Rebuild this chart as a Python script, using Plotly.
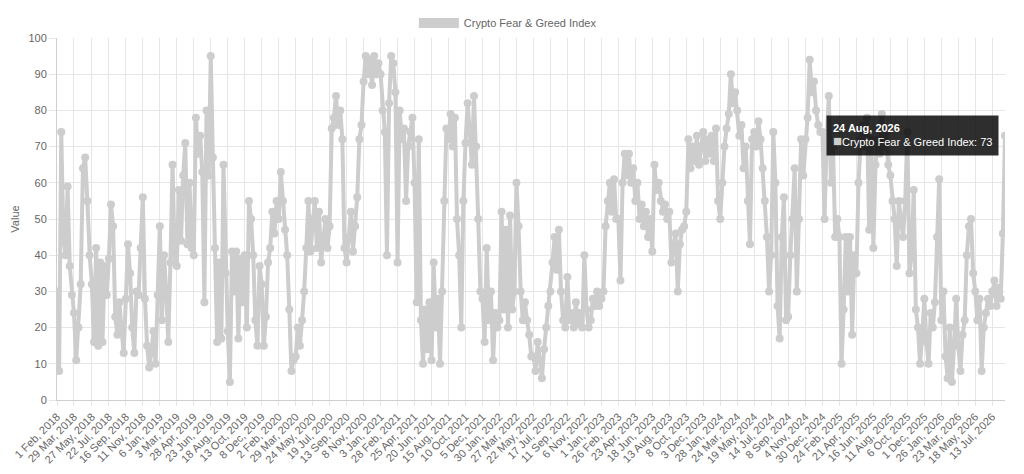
import plotly.graph_objects as go
import pandas as pd

# ---- tick labels (category labels shown on the x axis) ----
tick_labels = [
    "1 Feb, 2018", "29 Mar, 2018", "27 May, 2018", "22 Jul, 2018", "16 Sep, 2018", "11 Nov, 2018",
    "6 Jan, 2019", "3 Mar, 2019", "28 Apr, 2019", "23 Jun, 2019", "18 Aug, 2019", "13 Oct, 2019", "8 Dec, 2019",
    "2 Feb, 2020", "29 Mar, 2020", "24 May, 2020", "19 Jul, 2020", "13 Sep, 2020", "8 Nov, 2020",
    "3 Jan, 2021", "28 Feb, 2021", "25 Apr, 2021", "20 Jun, 2021", "15 Aug, 2021", "10 Oct, 2021", "5 Dec, 2021",
    "30 Jan, 2022", "27 Mar, 2022", "22 May, 2022", "17 Jul, 2022", "11 Sep, 2022", "6 Nov, 2022",
    "1 Jan, 2023", "26 Feb, 2023", "23 Apr, 2023", "18 Jun, 2023", "13 Aug, 2023", "8 Oct, 2023", "3 Dec, 2023",
    "28 Jan, 2024", "24 Mar, 2024", "19 May, 2024", "14 Jul, 2024", "8 Sep, 2024", "4 Nov, 2024", "30 Dec, 2024",
    "24 Feb, 2025", "21 Apr, 2025", "16 Jun, 2025", "11 Aug, 2025", "6 Oct, 2025", "1 Dec, 2025",
    "26 Jan, 2026", "23 Mar, 2026", "18 May, 2026", "13 Jul, 2026",
]
last_label = "24 Aug, 2026"
last_value = 73
series_name = "Crypto Fear & Greed Index"

# ---- index values, one list per labelled interval ----
vals_2018 = [
    [30, 8, 74, 45, 40, 59, 37, 29],
    [24, 11, 20, 32, 64, 67, 55, 40],
    [32, 16, 42, 15, 38, 16, 37, 29],
    [39, 54, 48, 23, 18, 27, 19, 13],
    [28, 43, 35, 20, 13, 30, 29, 42],
    [56, 28, 15, 9, 13, 19, 10, 29],
]
vals_2019 = [
    [48, 22, 40, 30, 16, 38, 65, 40],
    [37, 58, 44, 62, 71, 43, 60, 42],
    [40, 78, 68, 73, 63, 27, 80, 62],
    [95, 67, 42, 16, 38, 17, 65, 35],
    [19, 5, 41, 30, 41, 17, 39, 27],
    [40, 20, 55, 50, 40, 22, 15, 37],
    [32, 15, 23, 38, 42, 52, 46, 55],
]
vals_2020 = [
    [50, 63, 55, 47, 40, 25, 8, 11],
    [12, 20, 15, 22, 30, 42, 55, 41],
    [50, 55, 42, 52, 38, 44, 50, 42],
    [48, 75, 78, 84, 76, 80, 72, 42],
    [38, 45, 52, 41, 48, 56, 72, 76],
    [88, 95, 90, 94, 87, 95, 90, 93],
]
vals_2021 = [
    [90, 80, 74, 40, 82, 95, 93, 85],
    [38, 80, 72, 75, 55, 70, 74, 78],
    [60, 27, 72, 22, 10, 25, 14, 27],
    [11, 38, 20, 28, 10, 30, 55, 75],
    [72, 79, 70, 78, 50, 40, 20, 55],
    [71, 82, 74, 65, 84, 70, 50, 30],
    [28, 16, 42, 22, 30, 11, 24, 20],
]
vals_2022 = [
    [22, 52, 25, 47, 20, 51, 25, 30],
    [60, 48, 30, 22, 27, 22, 18, 12],
    [12, 8, 16, 11, 6, 14, 20, 26],
    [30, 38, 45, 36, 47, 30, 22, 20],
    [34, 22, 24, 20, 27, 21, 24, 20],
    [40, 25, 20, 22, 28, 26, 30, 26],
]
vals_2023 = [
    [28, 30, 48, 55, 60, 52, 61, 50],
    [50, 33, 60, 68, 62, 68, 60, 64],
    [55, 60, 50, 54, 48, 52, 45, 50],
    [41, 65, 58, 60, 55, 52, 54, 50],
    [52, 38, 42, 46, 30, 43, 47, 48],
    [52, 72, 64, 70, 66, 73, 65, 70],
    [74, 66, 72, 68, 73, 66, 75, 55],
]
vals_2024 = [
    [50, 60, 70, 75, 79, 90, 82, 85],
    [80, 73, 76, 64, 70, 55, 43, 72],
    [74, 70, 77, 72, 64, 55, 45, 30],
    [40, 74, 60, 26, 17, 45, 56, 22],
    [23, 40, 50, 64, 30, 50, 72, 62],
    [72, 78, 94, 85, 88, 80, 76, 74],
    [74, 50, 72, 84, 60, 70, 45, 50],
]
vals_2025 = [
    [45, 10, 25, 45, 30, 45, 18, 40],
    [35, 60, 72, 76, 70, 78, 47, 72],
    [42, 65, 72, 68, 79, 70, 74, 65],
    [62, 55, 50, 37, 55, 50, 45, 55],
    [74, 35, 40, 58, 25, 20, 10, 18],
    [28, 16, 10, 24, 20, 27, 45, 61],
]
vals_2026 = [
    [22, 30, 12, 6, 20, 5, 15, 28],
    [15, 8, 18, 22, 40, 48, 50, 35],
    [30, 22, 28, 8, 20, 24, 28, 26],
    [30, 33, 26, 31, 28, 46],
]

intervals = vals_2018 + vals_2019 + vals_2020 + vals_2021 + vals_2022 + vals_2023 + vals_2024 + vals_2025 + vals_2026

# ---- build date positions from the label dates ----
tick_dates = list(pd.to_datetime(tick_labels, format="%d %b, %Y"))
end_date = pd.to_datetime(last_label, format="%d %b, %Y")
bounds = tick_dates + [end_date]

xs, ys = [], []
for k, group in enumerate(intervals):
    a, b = bounds[k], bounds[k + 1]
    step = (b - a) / len(group)
    for j, v in enumerate(group):
        xs.append(a + j * step)
        ys.append(v)
xs.append(end_date)
ys.append(last_value)

grey = "#cdcdcd"
txt = "#666666"
grid = "#e6e6e6"
font_family = "Liberation Sans, Arial, Helvetica, sans-serif"

fig = go.Figure()
fig.add_trace(go.Scatter(
    x=xs, y=ys, mode="lines+markers", name=series_name, showlegend=False,
    line=dict(color=grey, width=4),
    marker=dict(color=grey, size=8),
    hoverinfo="skip",
))
# legend entry (box-like swatch)
fig.add_trace(go.Scatter(
    x=[None], y=[None], mode="lines", name=series_name,
    line=dict(color=grey, width=12),
))

# page body adds an 8px offset, so the figure is sized to fit the window
fig.update_layout(
    width=1016, height=466,
    margin=dict(l=49, r=19, t=30, b=74, autoexpand=False),
    paper_bgcolor="white", plot_bgcolor="white",
    font=dict(family=font_family, size=11, color=txt),
    showlegend=True,
    legend=dict(orientation="h", xref="container", x=0.492, xanchor="center",
                yref="container", y=0.968, yanchor="middle",
                font=dict(size=11, color=txt), itemwidth=40,
                bgcolor="rgba(0,0,0,0)"),
)
fig.update_xaxes(
    type="date", range=[tick_dates[0], end_date],
    tickvals=tick_dates, ticktext=tick_labels, tickangle=-45,
    showgrid=True, gridcolor=grid, gridwidth=1,
    showline=True, linecolor="#cfcfcf", linewidth=1,
    ticks="outside", ticklen=5, tickcolor=grid,
    tickfont=dict(size=11, color=txt), automargin=False,
)
fig.update_yaxes(
    range=[0, 100], tickvals=list(range(0, 101, 10)),
    showgrid=True, gridcolor=grid, gridwidth=1,
    showline=True, linecolor="#cfcfcf", linewidth=1,
    ticks="outside", ticklen=7, tickcolor=grid,
    zeroline=False,
    tickfont=dict(size=11, color=txt), automargin=False,
    title=dict(text="Value", font=dict(size=11, color=txt), standoff=6),
)

fig.add_annotation(
    x=end_date, y=last_value, xref="x", yref="y",
    xanchor="right", yanchor="middle", xshift=-6, showarrow=False,
    align="left",
    text="<b>" + last_label + "</b><br><span style='color:" + grey + ";font-size:15px'>■</span>"
         + series_name + ": " + str(last_value),
    font=dict(size=11, color="white", family=font_family),
    bgcolor="rgba(0,0,0,0.82)", borderpad=6, bordercolor="rgba(0,0,0,0)",
)

fig.write_html("out.html")
